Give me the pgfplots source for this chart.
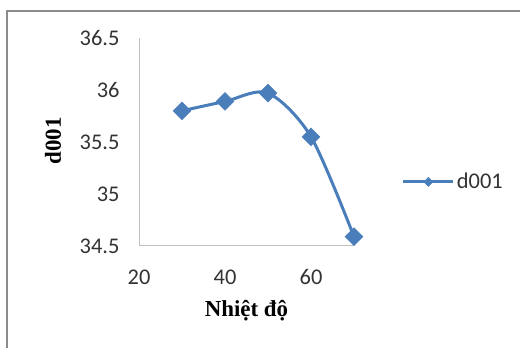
\documentclass[border=0pt]{standalone}
\usepackage{fontspec}
\setmainfont{Liberation Serif}
\newfontfamily\calibri{Carlito}
\usepackage{pgfplots}
\pgfplotsset{compat=1.18}
\definecolor{xlblue}{HTML}{4A7EBB}
\definecolor{axgray}{HTML}{BFBFBF}
\definecolor{bordgray}{HTML}{8C8C8C}
\begin{document}
\begin{tikzpicture}
\useasboundingbox (0bp,0bp) rectangle (520bp,348bp);
\fill[white] (0bp,0bp) rectangle (520bp,348bp);
\draw[bordgray, line width=1.5bp] (7bp,-5bp) -- (7bp,337bp) -- (530bp,337bp);
\begin{axis}[
  at={(139bp,102bp)}, anchor=south west,
  scale only axis, width=215bp, height=208bp,
  xmin=20, xmax=70, ymin=34.5, ymax=36.5,
  xtick={20,40,60}, ytick={34.5,35,35.5,36,36.5},
  yticklabels={34.5,35,35.5,36,36.5},
  axis x line*=bottom, axis y line*=left,
  axis line style={-, axgray, line width=1bp},
  major tick length=0pt,
  /pgf/number format/assume math mode=true,
  ticklabel style={font=\calibri\fontsize{22.5}{26}\selectfont, text=black!80},
  yticklabel style={xshift=-16bp},
  xticklabel style={yshift=-20bp},
  xlabel={\bfseries Nhiệt độ},
  ylabel={\bfseries d001},
  label style={font=\fontsize{23}{27}\selectfont},
  xlabel style={at={(axis description cs:0.50,0)}, anchor=center, yshift=-65bp},
  ylabel style={at={(axis description cs:-0.40,0.505)}, anchor=center},
  clip=false,
  legend style={at={(rel axis cs:1.222,0.308)}, anchor=west, draw=none, fill=none,
    font=\calibri\fontsize{22.5}{26}\selectfont, text=black!80, inner sep=0pt,
    /tikz/every even column/.append style={column sep=0pt}},
  legend cell align=left,
  legend image code/.code={%
    \draw[#1, mark=none] (0bp,0bp) -- (50bp,0bp);
    \draw[#1, mark size=3.2bp] plot coordinates {(25bp,0bp)};},
]
\addplot[xlblue, line width=3bp, smooth, tension=0.5,
  mark=square*, mark size=6.3bp,
  mark options={rotate=45, solid, fill=xlblue, draw=xlblue, line width=0.5bp}]
  coordinates {(30,35.80) (40,35.89) (50,35.97) (60,35.55) (70,34.59)};
\addlegendentry{d001}
\end{axis}
\end{tikzpicture}
\end{document}
